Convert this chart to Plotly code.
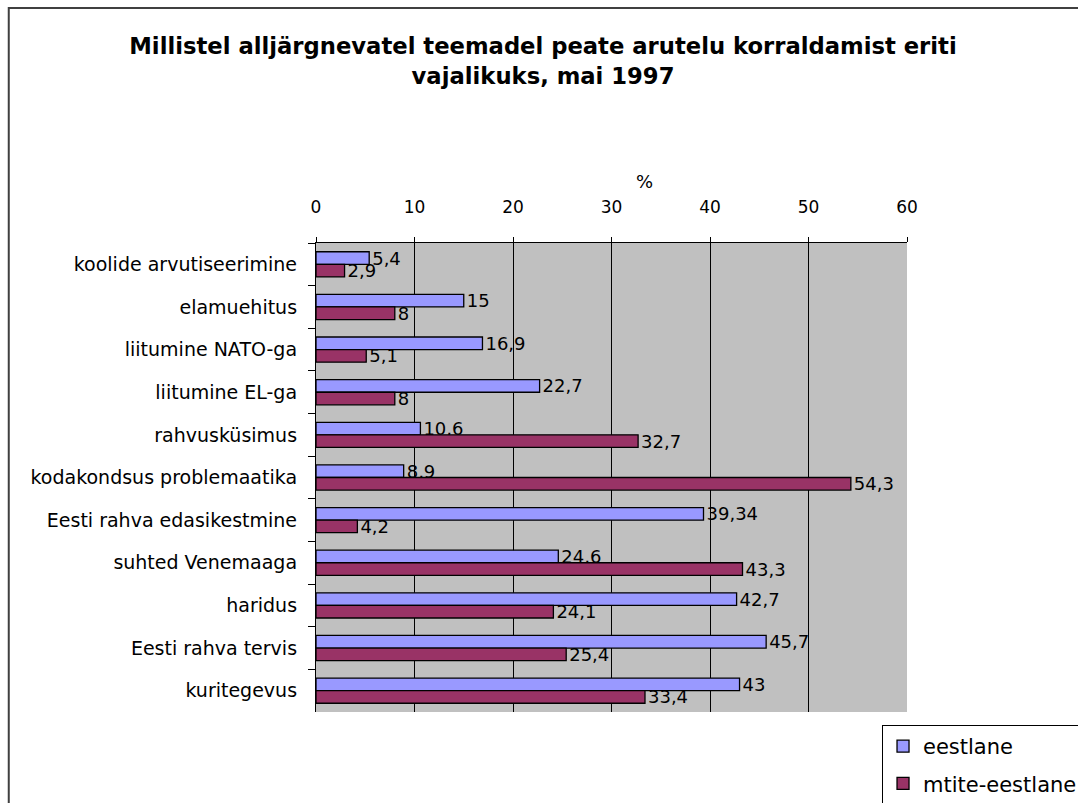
import plotly.graph_objects as go

categories = ["koolide arvutiseerimine", "elamuehitus", "liitumine NATO-ga", "liitumine EL-ga",
              "rahvusküsimus", "kodakondsus problemaatika", "Eesti rahva edasikestmine",
              "suhted Venemaaga", "haridus", "Eesti rahva tervis", "kuritegevus"]
eestlane = [5.4, 15, 16.9, 22.7, 10.6, 8.9, 39.34, 24.6, 42.7, 45.7, 43]
mitte_eestlane = [2.9, 8, 5.1, 8, 32.7, 54.3, 4.2, 43.3, 24.1, 25.4, 33.4]
series_names = ["eestlane", "mtite-eestlane"]
x_ticks = [0, 10, 20, 30, 40, 50, 60]

FONT = "DejaVu Sans, Verdana, sans-serif"

def fmt(v):
    return ("%g" % v).replace(".", ",")

fig = go.Figure()
for name, vals, col in [(series_names[0], eestlane, "#9999FF"),
                        (series_names[1], mitte_eestlane, "#993366")]:
    fig.add_trace(go.Bar(
        y=categories, x=vals, orientation="h", name=name, legendgroup=name,
        marker=dict(color=col, line=dict(color="black", width=1.3)),
        text=[fmt(v) for v in vals], textposition="outside", cliponaxis=False,
        constraintext="none",
        textfont=dict(family=FONT, size=18, color="black"),
    ))

L, R, T, B = 315.5, 907, 243, 712
W, H = 1078, 803
def px(x):
    return (x - L) / (R - L)
def py(y):
    return (B - y) / (B - T)

fig.update_layout(
    width=W, height=H,
    margin=dict(l=L, r=W - R, t=T, b=H - B, pad=0, autoexpand=False),
    paper_bgcolor="white", plot_bgcolor="#C0C0C0",
    barmode="group", bargap=0.41, bargroupgap=0,
    font=dict(family=FONT, size=17, color="black"),
    title=dict(text="Millistel alljärgnevatel teemadel peate arutelu korraldamist eriti<br>vajalikuks, mai 1997",
               font=dict(family=FONT, size=22.7, color="black", weight="bold"),
               x=543 / W, xref="container", xanchor="center",
               y=1 - 54 / H, yref="container", yanchor="top"),
    xaxis=dict(side="top", range=[0, 60], tickvals=x_ticks, ticktext=[str(t) for t in x_ticks],
               showgrid=True, gridcolor="black", gridwidth=1.3, zeroline=False,
               showline=True, linecolor="black", linewidth=1.3,
               ticks="outside", ticklen=5, tickcolor="black", tickwidth=1.3,
               ticklabelstandoff=17,
               tickfont=dict(family=FONT, size=17)),
    yaxis=dict(autorange="reversed", showline=True, linecolor="black", linewidth=1.3,
               ticks="outside", ticklen=7, tickcolor="black", tickwidth=1.3, tickson="boundaries",
               ticklabelstandoff=14,
               showgrid=False, tickfont=dict(family=FONT, size=19)),
    legend=dict(x=px(882), y=py(725), xanchor="left", yanchor="top",
                bordercolor="black", borderwidth=1, bgcolor="white",
                font=dict(family=FONT, size=21), traceorder="grouped", tracegroupgap=7,
                itemwidth=30),
    showlegend=True,
    annotations=[dict(text="%", xref="paper", yref="paper", x=px(644), y=py(181),
                      xanchor="center", yanchor="middle", showarrow=False,
                      font=dict(family=FONT, size=18, color="black"))],
    shapes=[dict(type="rect", xref="paper", yref="paper",
                 x0=px(8), y0=py(2000), x1=px(3000), y1=py(8),
                 line=dict(color="#404040", width=2), fillcolor="rgba(0,0,0,0)", layer="below")],
)

fig.write_html("out.html", config={"displayModeBar": False},
               post_script="document.body.style.margin='0px';")
